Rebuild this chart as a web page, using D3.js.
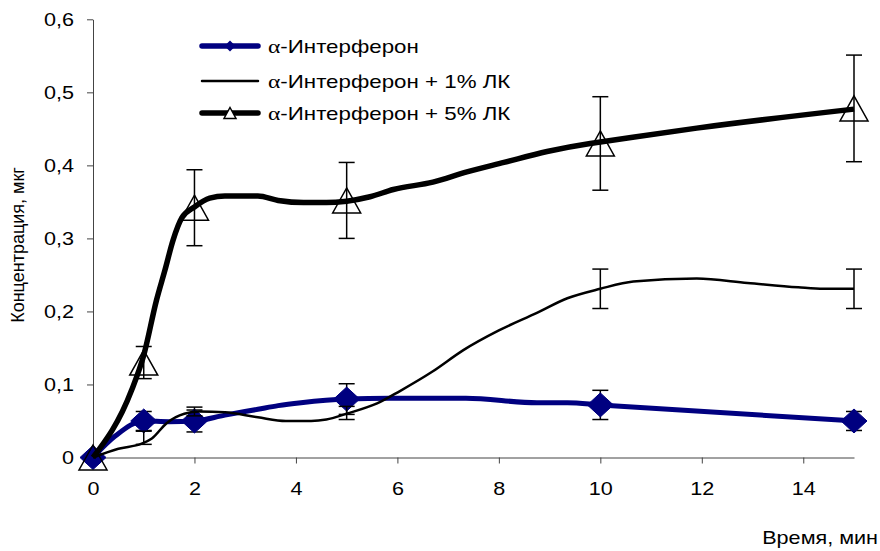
<!DOCTYPE html>
<html>
<head>
<meta charset="utf-8">
<script src="https://cdn.jsdelivr.net/npm/d3@7"></script>
<style>
  body { margin: 0; background: #fff; }
  svg { display: block; font-family: "Liberation Sans", Arial, sans-serif; }
</style>
</head>
<body>
<svg id="chart" width="880" height="551"></svg>
<script>
// time points with markers and error bars
const markerTimes = [0, 1, 2, 5, 10, 15];

// α-Интерферон
const ifnMean = [0, 0.05, 0.05, 0.08, 0.072, 0.05];
const ifnErr  = [0, 0.013, 0.015, 0.021, 0.02, 0.013];
// α-Интерферон + 1% ЛК (no markers)
const lk1Mean = [0, 0.027, 0.063, 0.061, 0.231, 0.231];
const lk1Err  = [0, 0.009, 0.006, 0.009, 0.027, 0.027];
// α-Интерферон + 5% ЛК
const lk5Mean = [0, 0.13, 0.342, 0.352, 0.43, 0.478];
const lk5Err  = [0, 0.022, 0.052, 0.052, 0.064, 0.073];

// traced curves
const ifnCurve = [[0,0],[0.45,0.03],[1,0.05],[1.5,0.049],[2,0.05],[2.6,0.058],[3.25,0.066],[3.65,0.071],
  [4.1,0.075],[5,0.08],[5.85,0.081],[7.35,0.081],[8.75,0.075],[9.35,0.075],[10,0.072],[15,0.05]];
const lk1Curve = [[0,0],[0.5,0.012],[0.96,0.019],[1.16,0.026],[1.45,0.047],[1.8,0.06],[2.1,0.063],[2.6,0.062],
  [3.25,0.055],[3.8,0.05],[4.3,0.05],[4.6,0.052],[5,0.06],[5.6,0.074],[6.05,0.091],[6.7,0.118],[7.3,0.147],
  [8.0,0.174],[8.75,0.198],[9.35,0.218],[10,0.231],[10.65,0.241],[11.9,0.245],[12.9,0.239],[13.9,0.233],
  [14.4,0.231],[15,0.231]];
const lk5Curve = [[0,0],[0.76,0.092],[1.0,0.14],[1.25,0.215],[1.42,0.257],[1.58,0.298],[1.75,0.328],[2.0,0.343],
  [2.3,0.355],[2.6,0.358],[3.25,0.358],[3.65,0.352],[4.15,0.349],[4.6,0.349],[5.0,0.351],[5.46,0.357],
  [5.92,0.367],[6.7,0.377],[7.37,0.391],[8.1,0.404],[8.95,0.419],[9.8,0.43],[10.0,0.432],[11.9,0.451],[15,0.477]];

const xTicks = [0, 2, 4, 6, 8, 10, 12, 14];
const yTicks = [0, 0.1, 0.2, 0.3, 0.4, 0.5, 0.6];

const legendNames = ["-Интерферон", "-Интерферон + 1% ЛК", "-Интерферон + 5% ЛК"];

const NAVY = "#000080";
const SX = 1.2; // horizontal stretch of text

let svg = d3.select("#chart");

let x = d3.scaleLinear().domain([0, 15]).range([93, 854]);
let y = d3.scaleLinear().domain([0, 0.6]).range([457.5, 19.3]);

let fmt = d => d === 0 ? "0" : d3.format(".1f")(d).replace(".", ",");

// x axis
let gx = svg.append("g")
    .attr("transform", `translate(0,${y(0)})`)
    .call(d3.axisBottom(x).tickValues(xTicks).tickSize(6).tickSizeOuter(0).tickPadding(19));
gx.select(".domain").attr("stroke", "#444");
gx.selectAll(".tick line").attr("stroke", "#444");
gx.selectAll(".tick text")
    .attr("font-size", "18px").attr("fill", "#000")
    .attr("font-family", "Liberation Sans, Arial, sans-serif")
    .attr("transform", `scale(${SX},1)`);

// y axis
let gy = svg.append("g")
    .attr("transform", `translate(${x(0)},0)`)
    .call(d3.axisLeft(y).tickValues(yTicks).tickFormat(fmt).tickSize(6).tickSizeOuter(0));
gy.select(".domain").attr("stroke", "#444");
gy.selectAll(".tick line").attr("stroke", "#444");
gy.selectAll(".tick text")
    .attr("x", 0)
    .attr("font-size", "18px").attr("fill", "#000")
    .attr("font-family", "Liberation Sans, Arial, sans-serif")
    .attr("transform", `translate(-19,0) scale(${SX},1)`);

// axis titles
svg.append("text")
    .attr("transform", `translate(878,544) scale(${SX},1)`)
    .attr("text-anchor", "end")
    .attr("font-size", "18px")
    .text("Время, мин");

svg.append("text")
    .attr("transform", "translate(24,245) rotate(-90)")
    .attr("text-anchor", "middle")
    .attr("font-size", "18px")
    .text("Концентрация, мкг");

let line = d3.line().x(d => x(d[0])).y(d => y(d[1])).curve(d3.curveMonotoneX);

function errorBars(means, errs, skipFirst) {
    let g = svg.append("g").attr("stroke", "#000").attr("stroke-width", 1.5);
    markerTimes.forEach((t, i) => {
        if (skipFirst && i === 0) return;
        let top = y(means[i] + errs[i]), bot = y(means[i] - errs[i]);
        g.append("line").attr("x1", x(t)).attr("x2", x(t)).attr("y1", top).attr("y2", bot);
        g.append("line").attr("x1", x(t) - 8).attr("x2", x(t) + 8).attr("y1", top).attr("y2", top);
        g.append("line").attr("x1", x(t) - 8).attr("x2", x(t) + 8).attr("y1", bot).attr("y2", bot);
    });
}

function diamond(cx, cy, hw, hh) {
    return `M${cx},${cy - hh}L${cx + hw},${cy}L${cx},${cy + hh}L${cx - hw},${cy}Z`;
}
function triangle(cx, cy, hw, hh) {
    return `M${cx},${cy - hh}L${cx + hw},${cy + hh}L${cx - hw},${cy + hh}Z`;
}

// series 1: α-Интерферон
errorBars(ifnMean, ifnErr, true);
svg.append("path").datum(ifnCurve)
    .attr("d", line).attr("fill", "none")
    .attr("stroke", NAVY).attr("stroke-width", 5).attr("stroke-linejoin", "round");
markerTimes.forEach((t, i) => {
    svg.append("path")
        .attr("d", diamond(x(t), y(ifnMean[i]), 13, 12))
        .attr("fill", NAVY).attr("stroke", NAVY);
});

// series 2: + 1% ЛК
errorBars(lk1Mean, lk1Err, true);
svg.append("path").datum(lk1Curve)
    .attr("d", line).attr("fill", "none")
    .attr("stroke", "#000").attr("stroke-width", 2.5);

// series 3: + 5% ЛК
errorBars(lk5Mean, lk5Err, true);
svg.append("path").datum(lk5Curve)
    .attr("d", line).attr("fill", "none")
    .attr("stroke", "#000").attr("stroke-width", 5.5).attr("stroke-linejoin", "round");
markerTimes.forEach((t, i) => {
    svg.append("path")
        .attr("d", triangle(x(t), y(lk5Mean[i]), 14, 12.5))
        .attr("fill", "none").attr("stroke", "#000").attr("stroke-width", 1.5);
});

// legend
let legendY = [46, 81, 113];
let lg = svg.append("g");
legendNames.forEach((name, i) => {
    let ly = legendY[i];
    lg.append("line")
        .attr("x1", 202).attr("x2", 258).attr("y1", ly).attr("y2", ly)
        .attr("stroke", i === 0 ? NAVY : "#000")
        .attr("stroke-width", i === 1 ? 2.5 : 5.5)
        .attr("stroke-linecap", "round");
    if (i === 0) {
        lg.append("path").attr("d", diamond(230, ly, 5.5, 5.5)).attr("fill", NAVY);
    }
    if (i === 2) {
        lg.append("path").attr("d", triangle(230, ly, 6, 5.5))
            .attr("fill", "#fff").attr("stroke", "#000").attr("stroke-width", 1.5);
    }
    let t = lg.append("text")
        .attr("transform", `translate(268,${ly + 6.5}) scale(1.24,1)`)
        .attr("font-size", "18px");
    t.append("tspan").attr("font-family", "Liberation Serif, Times New Roman, serif").attr("font-size", "19px").text("α");
    t.append("tspan").text(name);
});
</script>
</body>
</html>
